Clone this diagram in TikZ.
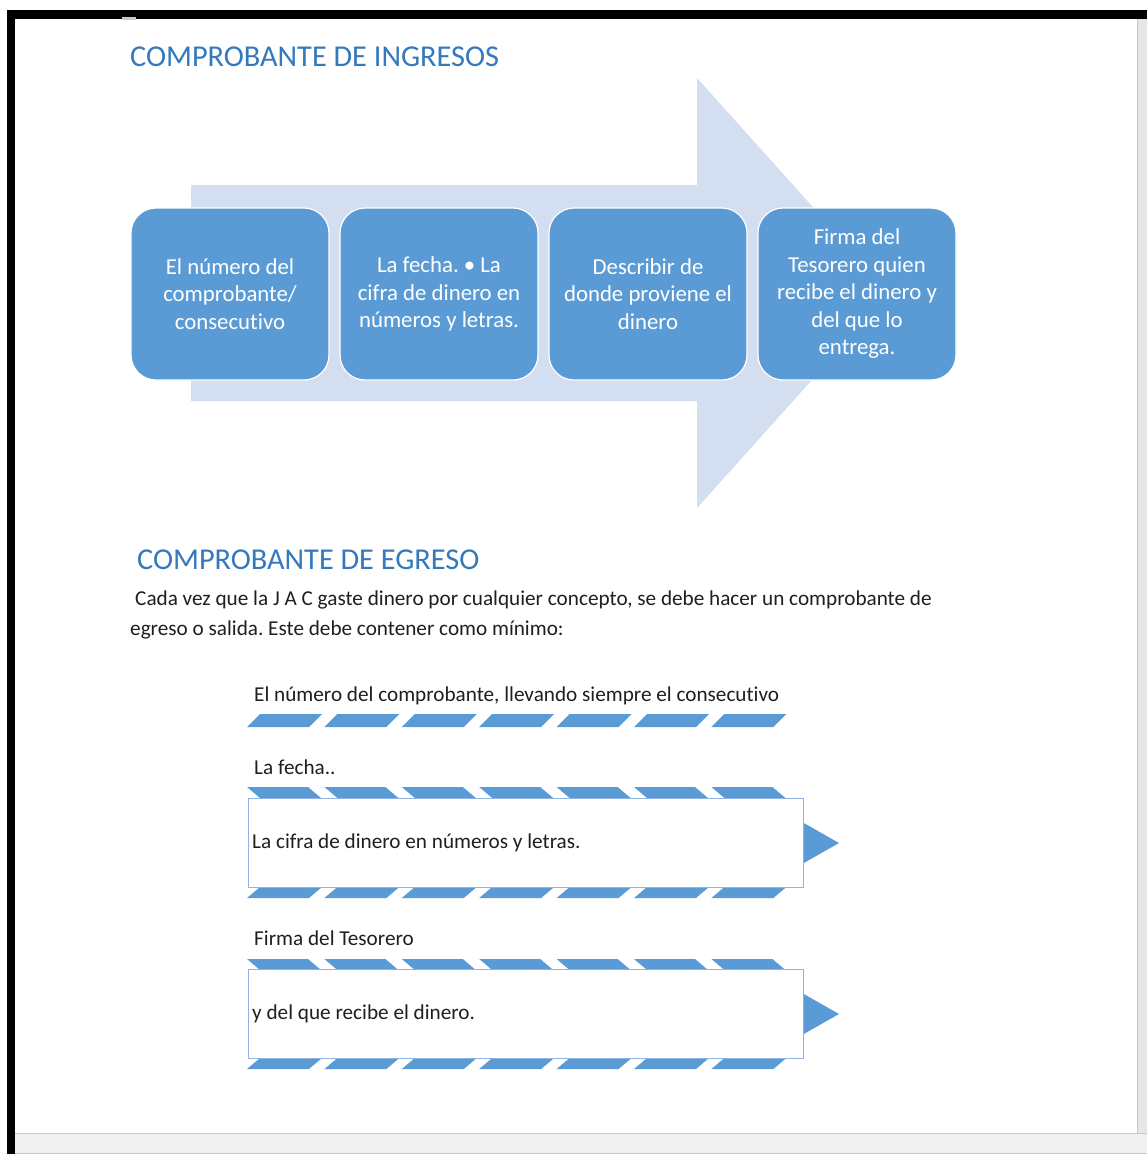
\documentclass[tikz,border=0pt]{standalone}
\usepackage{fontspec}
\setmainfont{Carlito}[Ligatures=NoCommon]
\frenchspacing
\definecolor{titleblue}{HTML}{3479BD}
\definecolor{boxblue}{HTML}{5B9BD5}
\definecolor{arrowblue}{HTML}{D3DEF0}
\definecolor{edgeblue}{HTML}{8FB4E3}
\definecolor{txt}{HTML}{1F1F1F}
\definecolor{panelgray}{HTML}{E6E6E6}
\definecolor{bottomgray}{HTML}{F0F0F0}
\definecolor{linegray}{HTML}{C8C8C8}
\begin{document}
\begin{tikzpicture}[x=1pt,y=-1pt,
  titletext/.style={anchor=base west,inner sep=0pt,text=titleblue,font=\fontsize{30.3}{36}\selectfont},
  bodytext/.style={anchor=base west,inner sep=0pt,text=txt,font=\fontsize{21.2}{30}\selectfont},
  stepbox/.style={rounded corners=25pt,fill=boxblue,draw=white,line width=1.2pt,minimum width=198pt,minimum height=172pt,inner sep=0pt},
  boxtext/.style={align=center,text=white,inner sep=0pt,font=\fontsize{22.8}{27.5}\selectfont},
  recbox/.style={draw=edgeblue,fill=white,line width=0.8pt,minimum width=555pt,minimum height=89pt,inner sep=0pt},
  stripe/.style={fill=boxblue},
  tipshape/.style={fill=boxblue}]
\useasboundingbox (0,0) rectangle (1147,1154);
\fill[white] (0,0) rectangle (1147,1154);
% window frame
\fill[panelgray] (1137,19) rectangle (1147,1133);
\draw[linegray,line width=1pt] (1137.5,19) -- (1137.5,1133);
\fill[bottomgray] (15,1133) rectangle (1147,1154);
\draw[linegray,line width=1pt] (15,1133.5) -- (1147,1133.5);
\draw[linegray,line width=1pt] (15,1153.5) -- (1147,1153.5);
\fill[black] (7,10) rectangle (1147,19);
\fill[black] (7,10) rectangle (15,1154);
\fill[linegray] (122,17) rectangle (136,20);
% titles
\node[titletext] (t1) at (130,66) {COMPROBANTE DE INGRESOS};
% big arrow
\fill[arrowblue] (191,185) -- (697,185) -- (697,78) -- (890,293) -- (697,508) -- (697,401) -- (191,401) -- cycle;
% process boxes
\node[stepbox] (b1) at (230,294) {};
\node[stepbox] (b2) at (439,294) {};
\node[stepbox] (b3) at (648,294) {};
\node[stepbox] (b4) at (857,294) {};
\node[boxtext] (bt1) at (b1.center) {El número del\\comprobante/\\consecutivo};
\node[boxtext] (bt2) at (b2.center) {La fecha. • La\\cifra de dinero en\\números y letras.};
\node[boxtext] (bt3) at (b3.center) {Describir de\\donde proviene el\\dinero};
\node[boxtext] (bt4) at (b4.center) {Firma del\\Tesorero quien\\recibe el dinero y\\del que lo\\entrega.};
% second section
\node[titletext] (t2) at (137,569) {COMPROBANTE DE EGRESO};
\node[bodytext] (p1) at (135,605) {Cada vez que la J A C gaste dinero por cualquier concepto, se debe hacer un comprobante de};
\node[bodytext] (p2) at (130,635) {egreso o salida. Este debe contener como mínimo:};
% item 1
\node[bodytext] (i1) at (254,701) {El número del comprobante, llevando siempre el consecutivo};
\foreach \i in {0,...,6} {
  \pgfmathsetmacro\xa{247+77.4*\i}
  \fill[stripe] (\xa,727) -- ++(62,0) -- ++(13,-13) -- ++(-62,0) -- cycle;
}
% item 2
\node[bodytext] (i2) at (254,774) {La fecha..};
\foreach \i in {0,...,6} {
  \pgfmathsetmacro\xa{247+77.4*\i}
  \fill[stripe] (\xa,787) -- ++(61,0) -- ++(13,11) -- ++(-61,0) -- cycle;
  \fill[stripe] (\xa,898) -- ++(62,0) -- ++(13,-11) -- ++(-62,0) -- cycle;
}
\fill[tipshape] (795,818) -- (839,843) -- (795,868) -- cycle;
\node[recbox] (r2) at (525.5,842.5) {};
\node[bodytext,anchor=west] (r2t) at (252,843) {La cifra de dinero en números y letras.};
% item 3
\node[bodytext] (i3) at (254,945) {Firma del Tesorero};
\foreach \i in {0,...,6} {
  \pgfmathsetmacro\xa{247+77.4*\i}
  \fill[stripe] (\xa,959) -- ++(61,0) -- ++(13,11) -- ++(-61,0) -- cycle;
  \fill[stripe] (\xa,1069) -- ++(62,0) -- ++(13,-11) -- ++(-62,0) -- cycle;
}
\fill[tipshape] (795,989) -- (839,1014) -- (795,1039) -- cycle;
\node[recbox] (r3) at (525.5,1014) {};
\node[bodytext,anchor=west] (r3t) at (252,1014) {y del que recibe el dinero.};
\end{tikzpicture}
\end{document}
